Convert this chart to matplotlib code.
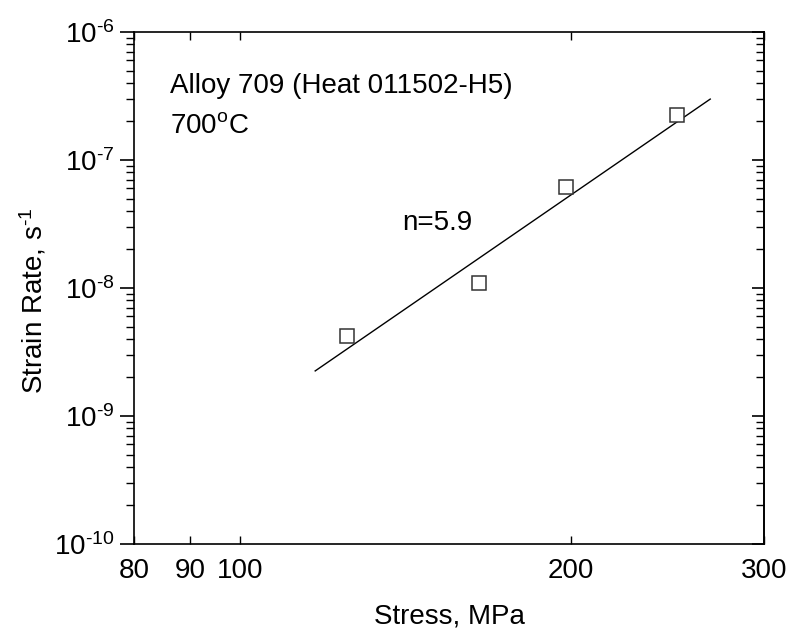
import numpy as np
import matplotlib.pyplot as plt
from matplotlib.ticker import LogLocator, NullFormatter, NullLocator, FuncFormatter

plt.rcParams['font.family'] = ['Liberation Sans', 'DejaVu Sans']
plt.rcParams['mathtext.fontset'] = 'custom'
plt.rcParams['mathtext.rm'] = 'Liberation Sans'
plt.rcParams['mathtext.it'] = 'Liberation Sans'
plt.rcParams['mathtext.default'] = 'regular'

# creep data, 700 C
stress = [125, 165, 198, 250]             # MPa
strain_rate = [4.2e-9, 1.1e-8, 6.2e-8, 2.25e-7]   # 1/s

# power-law fit: rate = A * stress^n
n_exp = 5.9
fit_stress = [117, 268]
fit_anchor = (117, 2.25e-9)

x_ticks = [80, 90, 100, 200, 300]

fig = plt.figure(figsize=(7.89, 6.28), dpi=100)
ax = fig.add_axes([134 / 789, 1 - 544 / 628, 630 / 789, 512 / 628])

A = fit_anchor[1] / fit_anchor[0] ** n_exp
fs = np.array(fit_stress, dtype=float)
ax.plot(fs, A * fs ** n_exp, color='black', lw=1.0)

ax.plot(stress, strain_rate, linestyle='none', marker='s', markersize=9.5,
        markerfacecolor='white', markeredgecolor='#333333', markeredgewidth=1.1)

ax.set_xscale('log')
ax.set_yscale('log')
ax.set_xlim(80, 300)
ax.set_ylim(1e-10, 1e-6)

ax.set_xticks(x_ticks)
ax.set_xticklabels([str(t) for t in x_ticks])
ax.xaxis.set_minor_locator(NullLocator())
ax.tick_params(axis='x', which='major', direction='in', length=6, width=1.0,
               top=True, bottom=True, labelsize=20, pad=10)


def decade_label(v, pos):
    e = int(round(np.log10(v)))
    return r'10$^{\text{-}%d}$' % (-e)


ax.yaxis.set_major_locator(LogLocator(base=10, numticks=10))
ax.yaxis.set_major_formatter(FuncFormatter(decade_label))
ax.yaxis.set_minor_locator(LogLocator(base=10, subs=np.arange(2, 10), numticks=10))
ax.yaxis.set_minor_formatter(NullFormatter())
ax.tick_params(axis='y', which='major', direction='out', length=10, width=1.2,
               left=True, right=False, labelsize=20, pad=4)
ax.tick_params(axis='y', which='minor', direction='out', length=6, width=1.0,
               left=True, right=False)

# inward ticks on the right side
sec = ax.secondary_yaxis('right')
sec.yaxis.set_major_locator(LogLocator(base=10, numticks=10))
sec.yaxis.set_minor_locator(LogLocator(base=10, subs=np.arange(2, 10), numticks=10))
sec.yaxis.set_major_formatter(NullFormatter())
sec.yaxis.set_minor_formatter(NullFormatter())
sec.tick_params(axis='y', which='major', direction='in', length=9, width=1.2)
sec.tick_params(axis='y', which='minor', direction='in', length=6, width=1.0)
sec.spines['right'].set_linewidth(1.2)

for sp in ax.spines.values():
    sp.set_linewidth(1.2)

ax.set_xlabel('Stress, MPa', fontsize=20, labelpad=14)
ax.set_ylabel(r'Strain Rate, s$^{\text{-}1}$', fontsize=20, labelpad=4)
ax.yaxis.label.set_y(0.475)

ax.text(0.057, 0.881, 'Alloy 709 (Heat 011502-H5)', transform=ax.transAxes,
        fontsize=20, va='baseline')
ax.text(0.057, 0.803, '700$^{o}$C', transform=ax.transAxes,
        fontsize=20, va='baseline')
ax.text(0.425, 0.613, 'n=5.9', transform=ax.transAxes,
        fontsize=20, va='baseline')

fig.savefig('out.png', dpi=100)
